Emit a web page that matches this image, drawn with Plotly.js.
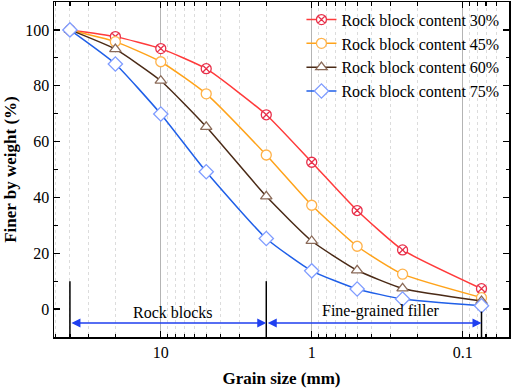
<!DOCTYPE html>
<html>
<head>
<meta charset="utf-8">
<script src="https://cdn.plot.ly/plotly-3.0.1.min.js"></script>
<style>html,body{margin:0;padding:0;background:#fff}#chart{width:512px;height:389px}</style>
</head>
<body>
<div id="chart"></div>
<script>
const grainSize = [40, 20, 10, 5, 2, 1, 0.5, 0.25, 0.075];
const content30 = [100, 97.6, 93.3, 86.1, 69.6, 52.6, 35.3, 21.2, 7.3];
const content45 = [100, 95.8, 88.6, 77.1, 55.2, 37.2, 22.5, 12.5, 4.1];
const content60 = [100, 93.1, 81.8, 65.3, 40.4, 24.4, 13.9, 7.4, 2.9];
const content75 = [100, 87.8, 69.9, 49.2, 25.3, 13.7, 7.2, 3.6, 1.2];
const seriesNames = ['Rock block content 30%', 'Rock block content 45%', 'Rock block content 60%', 'Rock block content 75%'];
const xTickVals = [10, 1, 0.1];
const xTickText = ['10', '1', '0.1'];
const zoneBounds = [40, 2, 0.075];
const zoneLabels = ['Rock blocks', 'Fine-grained filler'];

const SERIF = '"Liberation Serif", "Times New Roman", Times, serif';
const styles = [
  {line: '#ff3a3a', mk: '#e8304a', sym: 'circle-x'},
  {line: '#ffa31a', mk: '#ffb24a', sym: 'circle'},
  {line: '#4a2a16', mk: '#8a6a58', sym: 'triangle-up'},
  {line: '#1f5fe8', mk: '#7f9cff', sym: 'diamond'}
];
const allSeries = [content30, content45, content60, content75];
const traces = allSeries.map((ys, i) => ({
  x: grainSize, y: ys, name: seriesNames[i], type: 'scatter', mode: 'lines+markers',
  line: {color: styles[i].line, width: 1.5, shape: 'spline', smoothing: 0.5},
  marker: {symbol: styles[i].sym, size: styles[i].sym === 'diamond' ? 11 : 10, color: 'white', line: {color: styles[i].mk, width: 1.3}}
}));

const minorVals = [];
[10, 1, 0.1, 0.01].forEach(d => { for (let k = 2; k <= 9; k++) minorVals.push(k * d); });

const L = v => Math.log10(v);
const shapes = [
  {type: 'line', xref: 'x', yref: 'y', x0: zoneBounds[0], x1: zoneBounds[0], y0: 10, y1: -10, line: {color: '#000', width: 1.5}, layer: 'above'},
  {type: 'line', xref: 'x', yref: 'y', x0: zoneBounds[1], x1: zoneBounds[1], y0: 10, y1: -10, line: {color: '#000', width: 1.5}, layer: 'above'},
  {type: 'line', xref: 'x', yref: 'y', x0: zoneBounds[2], x1: zoneBounds[2], y0: -0.9, y1: -10, line: {color: '#000', width: 1.5}, layer: 'above'}
];
const annotations = [
  {xref: 'x', yref: 'y', axref: 'x', ayref: 'y', x: L(zoneBounds[1]), y: -5, ax: L(zoneBounds[0]), ay: -5, text: '', showarrow: true,
   arrowside: 'end+start', arrowhead: 2, startarrowhead: 2, arrowsize: 1.2, startarrowsize: 1.2, arrowwidth: 1.5, arrowcolor: '#1f3ff0', standoff: 0, startstandoff: 0},
  {xref: 'x', yref: 'y', axref: 'x', ayref: 'y', x: L(zoneBounds[2]), y: -5, ax: L(zoneBounds[1]), ay: -5, text: '', showarrow: true,
   arrowside: 'end+start', arrowhead: 2, startarrowhead: 2, arrowsize: 1.2, startarrowsize: 1.2, arrowwidth: 1.5, arrowcolor: '#1f3ff0', standoff: 0, startstandoff: 0},
  {xref: 'x', yref: 'y', x: L(8.3), y: -1.3, text: zoneLabels[0], showarrow: false, font: {family: SERIF, size: 16, color: '#000'}},
  {xref: 'x', yref: 'y', x: L(0.347), y: -0.6, text: zoneLabels[1], showarrow: false, font: {family: SERIF, size: 16, color: '#000'}}
];

const layout = {
  width: 512, height: 389,
  margin: {l: 54, r: 3, t: 2, b: 52},
  paper_bgcolor: '#fff', plot_bgcolor: '#fff',
  font: {family: SERIF, color: '#000'},
  showlegend: true,
  legend: {x: 0.99, xanchor: 'right', y: 0.998, yanchor: 'top', bgcolor: 'rgba(0,0,0,0)', font: {family: SERIF, size: 16, color: '#000'}, tracegroupgap: 0, itemwidth: 30},
  xaxis: {
    type: 'log', range: [L(51), L(0.0493)], autorange: false,
    tickvals: xTickVals, ticktext: xTickText, ticks: 'inside', ticklen: 6, tickwidth: 1.2, tickcolor: '#000',
    showline: true, linecolor: '#000', linewidth: 1.5, mirror: 'ticks',
    showgrid: true, gridcolor: '#b4b4b4', gridwidth: 1,
    minor: {tickvals: minorVals, ticks: 'inside', ticklen: 3.5, tickcolor: '#000', showgrid: true, gridcolor: '#dcdcdc', griddash: 'dot', gridwidth: 1},
    tickfont: {family: SERIF, size: 16, color: '#000'},
    title: {text: '<b>Grain size (mm)</b>', font: {family: SERIF, size: 17, color: '#000'}, standoff: 12},
    zeroline: false
  },
  yaxis: {
    range: [-10, 110], autorange: false,
    tickvals: [0, 20, 40, 60, 80, 100], ticks: 'inside', ticklen: 6, tickwidth: 1.2, tickcolor: '#000',
    showline: true, linecolor: '#000', linewidth: 1.5, mirror: 'ticks',
    showgrid: false, zeroline: false,
    minor: {dtick: 10, ticks: 'inside', ticklen: 3.5, tickcolor: '#000', showgrid: false},
    tickfont: {family: SERIF, size: 16, color: '#000'},
    title: {text: '<b>Finer by weight (%)</b>', font: {family: SERIF, size: 17, color: '#000'}, standoff: 4}
  },
  shapes: shapes,
  annotations: annotations
};

Plotly.newPlot('chart', traces, layout, {displayModeBar: false, staticPlot: true});
</script>
</body>
</html>
